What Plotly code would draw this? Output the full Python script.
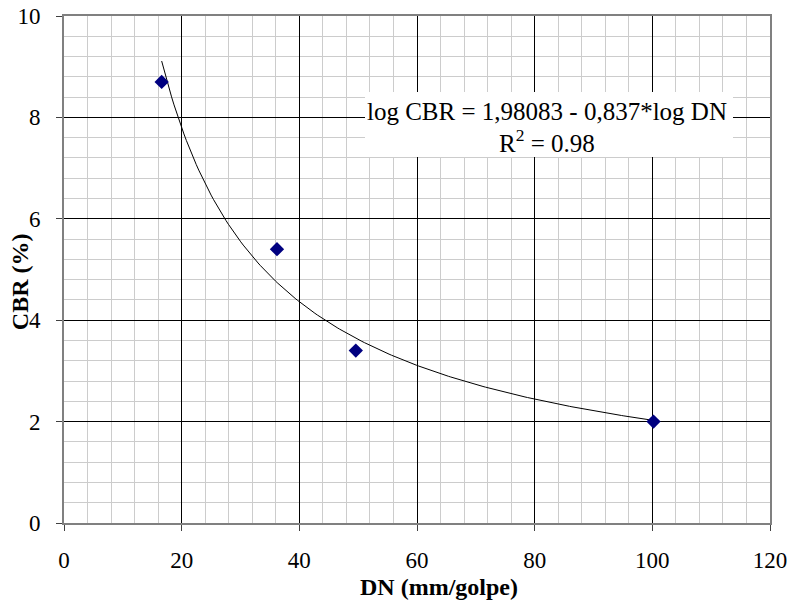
import numpy as np
import plotly.graph_objects as go

# Data
dn_values = [16.6, 36.2, 49.6, 100.2]
cbr_values = [8.7, 5.4, 3.4, 2.0]

# Trendline coefficients shown on the chart: log CBR = a - b*log DN
coef_a = 1.98083
coef_b = 0.837
r2_text = "0.98"

x_ticks = [0, 20, 40, 60, 80, 100, 120]
y_ticks = [0, 2, 4, 6, 8, 10]

x_title = "DN (mm/golpe)"
y_title = "CBR (%)"

fit_x = np.linspace(min(dn_values), max(dn_values), 200)
fit_y = 10 ** (coef_a - coef_b * np.log10(fit_x))

serif = "Liberation Serif"

fig = go.Figure()
fig.add_trace(go.Scatter(x=fit_x, y=fit_y, mode="lines",
                         line=dict(color="#000000", width=1), hoverinfo="skip"))
fig.add_trace(go.Scatter(x=dn_values, y=cbr_values, mode="markers",
                         marker=dict(symbol="diamond", size=11, color="#000080")))

axis_common = dict(
    showline=True, linecolor="#808080", linewidth=2, mirror=True,
    showgrid=True, gridcolor="#000000", gridwidth=1,
    ticks="outside", ticklen=6, tickcolor="#404040", tickwidth=1,
    zeroline=False, automargin=False,
    tickfont=dict(family=serif, size=23, color="#000000"),
)

fig.update_layout(
    width=791, height=600,
    margin=dict(l=64, r=21, t=16, b=77),
    paper_bgcolor="white", plot_bgcolor="white",
    font=dict(family=serif, size=23, color="#000000"),
    showlegend=False,
    xaxis=dict(range=[0, 120], tickvals=x_ticks, ticklabelstandoff=9, **axis_common,
               minor=dict(dtick=4, showgrid=True, gridcolor="#cccccc", gridwidth=1, ticks="")),
    yaxis=dict(range=[0, 10], tickvals=y_ticks, ticklabelstandoff=11, **axis_common,
               minor=dict(dtick=0.4, showgrid=True, gridcolor="#cccccc", gridwidth=1, ticks="")),
)

# axis titles
fig.add_annotation(x=0.531, y=-0.126, xref="paper", yref="paper",
                   xanchor="center", yanchor="middle",
                   text=f"<b>{x_title}</b>", showarrow=False,
                   font=dict(family=serif, size=24, color="#000000"))
fig.add_annotation(x=-0.0623, y=0.475, xref="paper", yref="paper", textangle=-90,
                   xanchor="center", yanchor="middle",
                   text=f"<b>{y_title}</b>", showarrow=False,
                   font=dict(family=serif, size=24, color="#000000"))

# trendline label box
fig.add_shape(type="rect", xref="paper", yref="paper",
              x0=(365 - 64) / 706, x1=(733 - 64) / 706,
              y0=(523 - 157) / 507, y1=(523 - 92) / 507,
              fillcolor="white", line=dict(width=0), layer="above")
eq_line1 = f"log CBR = {str(coef_a).replace('.', ',')} - {str(coef_b).replace('.', ',')}*log DN"
eq_line2 = f"R<sup>2</sup> = {r2_text}"
fig.add_annotation(x=0.684, y=0.8126, xref="paper", yref="paper", text=eq_line1,
                   xanchor="center", yanchor="middle",
                   showarrow=False, font=dict(family=serif, size=25, color="#000000"))
fig.add_annotation(x=0.684, y=0.7535, xref="paper", yref="paper", text=eq_line2,
                   xanchor="center", yanchor="middle",
                   showarrow=False, font=dict(family=serif, size=25, color="#000000"))

fig.write_html("out.html", config={"displayModeBar": False},
               post_script="document.body.style.margin='0';document.body.style.overflow='hidden';window.dispatchEvent(new Event('resize'));")
